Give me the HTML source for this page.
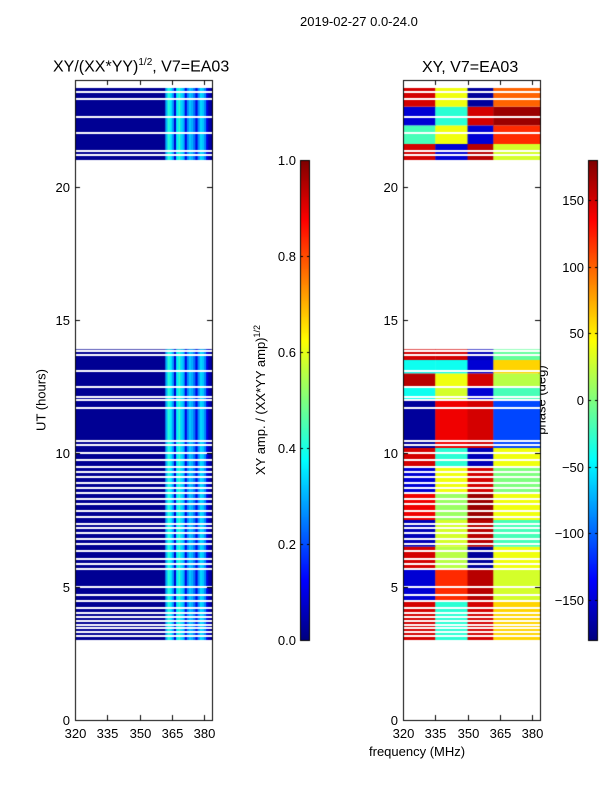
<!DOCTYPE html>
<html><head><meta charset="utf-8"><style>
body{margin:0;background:#fff;width:600px;height:800px;position:relative;overflow:hidden;font-family:"Liberation Sans",sans-serif;color:#000}
.t{position:absolute;white-space:nowrap;font-size:13px}
canvas{position:absolute}
</style></head><body>
<div class="t" style="left:300px;top:14px;font-size:13px">2019-02-27 0.0-24.0</div>
<div class="t" style="left:53px;top:57px;font-size:16px">XY/(XX*YY)<sup style="font-size:10px">1/2</sup>, V7=EA03</div>
<div class="t" style="left:422px;top:59px;font-size:16px">XY, V7=EA03</div>
<div class="t" style="left:41px;top:400px;transform:translate(-50%,-50%) rotate(-90deg)">UT (hours)</div>
<div class="t" style="left:260px;top:400px;transform:translate(-50%,-50%) rotate(-90deg)">XY amp. / (XX*YY amp)<sup style="font-size:9px">1/2</sup></div>
<div class="t" style="left:541px;top:400px;transform:translate(-50%,-50%) rotate(-90deg)">phase (deg)</div>
<div class="t" style="left:369px;top:744px">frequency (MHz)</div>
<canvas id="cv" width="600" height="800"></canvas>
<div id="labels"></div>
<script>
// ---- data ----
const utRange=[0,24];
const freqRange=[320,383.7];
const dataSpans=[[3.0,13.9],[21.0,23.7]];
const gapTimes=[3.15,3.3,3.45,3.55,3.7,3.85,4.0,4.2,4.45,4.7,5.0,5.65,5.85,6.05,6.35,6.6,6.8,7.0,7.2,7.35,7.6,7.85,8.1,8.3,8.5,8.7,8.9,9.1,9.3,9.5,9.75,10.0,10.3,10.45,11.7,12.0,12.1,12.5,13.1,13.7,13.85,21.2,21.35,22.0,22.6,23.3,23.55];
const freqBins=[362,363,364,365,366,367,368,369,370,371,372,373,374,375,376,377,378,379,380,381,382];
const ampValues=[0.3,0.42,0.36,0.28,0.08,0.36,0.42,0.34,0.3,0.1,0.26,0.32,0.3,0.24,0.1,0.26,0.34,0.32,0.26,0.1,0.04];
const baseAmp=0.02;
const phaseBlocks=[3.0,4.5,5.7,6.5,7.5,8.5,9.5,10.2,12.0,12.5,13.0,13.5,13.9,21.0,21.6,22.3,23.0,23.7];
const phaseSeg1=[150,-150,150,-160,140,-150,150,-170,-40,160,-40,150,0,150,-20,-150,150];
const phaseSeg2=[-30,120,20,30,10,40,-30,140,30,40,-40,150,0,-150,40,-30,40];
const phaseSeg3=[150,160,-170,160,170,150,-160,150,-150,150,-150,-160,0,160,-150,150,-170];
const phaseSeg4=[60,30,40,-20,40,0,40,-110,-20,20,60,-10,0,30,120,170,100];
const segEdges=[320,335,350,362,383.7];
const ampTicks=["0.0","0.2","0.4","0.6","0.8","1.0"];
const phaseTicks=["\u2212150","\u2212100","\u221250","0","50","100","150"];
const phaseTickVals=[-150,-100,-50,0,50,100,150];
const utTicks=[0,5,10,15,20];
const freqTicks=[320,335,350,365,380];

function jet(v){v=Math.max(0,Math.min(1,v));
 const r=Math.max(0,Math.min(1,1.5-Math.abs(4*v-3))),g=Math.max(0,Math.min(1,1.5-Math.abs(4*v-2))),b=Math.max(0,Math.min(1,1.5-Math.abs(4*v-1)));
 return `rgb(${r*255|0},${g*255|0},${b*255|0})`;}
const L={x0:75,x1:212,y0:80,y1:720}, R={x0:403,x1:540,y0:80,y1:720};
function xs(ax,f){return ax.x0+(f-freqRange[0])/(freqRange[1]-freqRange[0])*(ax.x1-ax.x0);}
function ys(ax,t){return ax.y1-(t-utRange[0])/(utRange[1]-utRange[0])*(ax.y1-ax.y0);}
const c=document.getElementById('cv').getContext('2d');
const lab=document.getElementById('labels');
function text(s,x,y,align,name){const d=document.createElement('div');d.className='t';d.textContent=s;
 d.style.left=x+'px';d.style.top=(y-8)+'px';
 if(align==='c')d.style.transform='translateX(-50%)';if(align==='r')d.style.transform='translateX(-100%)';
 
 
 lab.appendChild(d);}

// left heatmap
dataSpans.forEach(sp=>{
 c.fillStyle=jet(baseAmp);c.fillRect(L.x0,ys(L,sp[1]),L.x1-L.x0,ys(L,sp[0])-ys(L,sp[1]));
 freqBins.forEach((f,i)=>{c.fillStyle=jet(ampValues[i]);c.fillRect(xs(L,f),ys(L,sp[1]),xs(L,f+1)-xs(L,f)+0.5,ys(L,sp[0])-ys(L,sp[1]));});
});
// right heatmap
for(let b=0;b<phaseBlocks.length-1;b++){
 if(phaseBlocks[b]===13.9)continue;
 const segs=[phaseSeg1[b],phaseSeg2[b],phaseSeg3[b],phaseSeg4[b]];
 for(let s=0;s<4;s++){c.fillStyle=jet((segs[s]+180)/360);
  c.fillRect(xs(R,segEdges[s]),ys(R,phaseBlocks[b+1]),xs(R,segEdges[s+1])-xs(R,segEdges[s])+0.5,ys(R,phaseBlocks[b])-ys(R,phaseBlocks[b+1]));}
}
// gaps
c.fillStyle='#fff';
gapTimes.forEach(t=>{[L,R].forEach(ax=>c.fillRect(ax.x0,Math.round(ys(ax,t))-1,ax.x1-ax.x0,2));});
// axes
[L,R].forEach((ax,k)=>{
 c.strokeStyle='#000';c.lineWidth=1;c.strokeRect(ax.x0+0.5,ax.y0+0.5,ax.x1-ax.x0,ax.y1-ax.y0);
 utTicks.forEach(t=>{const y=Math.round(ys(ax,t))+0.5;c.beginPath();c.moveTo(ax.x0,y);c.lineTo(ax.x0+5,y);c.moveTo(ax.x1,y);c.lineTo(ax.x1-5,y);c.stroke();
  text(String(t),ax.x0-5,y,'r','y-tick-label');});
 freqTicks.forEach(f=>{const x=Math.round(xs(ax,f))+0.5;c.beginPath();c.moveTo(x,ax.y1);c.lineTo(x,ax.y1-5);c.moveTo(x,ax.y0);c.lineTo(x,ax.y0+5);c.stroke();
  text(String(f),x,ax.y1+14,'c','x-tick-label');});
});
// colorbars
function cbar(x0,ticks,tv,lo,hi,name){
 for(let y=160;y<640;y++){c.fillStyle=jet((640-y)/480);c.fillRect(x0,y,10,1);}
 c.strokeRect(x0+0.5,160.5,9,480);
 ticks.forEach((s,i)=>{const y=Math.round(640-(tv[i]-lo)/(hi-lo)*480)+0.5;
  c.beginPath();c.moveTo(x0,y);c.lineTo(x0+3,y);c.moveTo(x0+10,y);c.lineTo(x0+7,y);c.stroke();
  text(s,x0-4,y,'r',name);});
}
cbar(300,ampTicks,[0,0.2,0.4,0.6,0.8,1.0],0,1,'amp-colorbar-tick');
cbar(588,phaseTicks,phaseTickVals,-180,180,'phase-colorbar-tick');
</script>
</body></html>
